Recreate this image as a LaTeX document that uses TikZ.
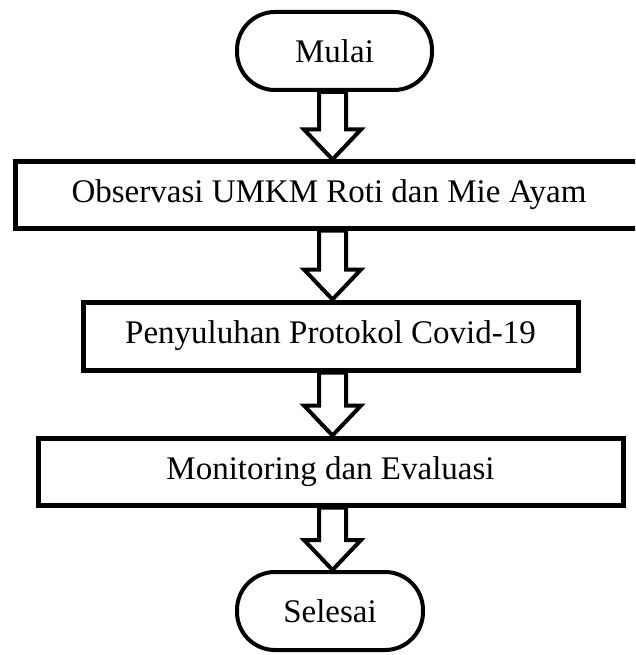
\documentclass[tikz,border=0pt]{standalone}
\usepackage{fontspec}
\setmainfont{Liberation Serif}
\usetikzlibrary{calc}
\tikzset{
  term/.style={draw, line width=4pt, rounded corners=38pt, fill=white, inner sep=0pt},
  procbox/.style={draw, line width=5pt, fill=white, inner sep=0pt},
  barrow/.style={draw, line width=4pt, fill=white, line join=miter}
}
\newcommand\blockarrow[2]{%
  \draw[barrow] let \p1=(#1.south), \p2=(#2.north) in
    (319pt,\y1) -- (346pt,\y1) -- (346pt,\y2+30pt) -- (361pt,\y2+30pt)
    -- (332.5pt,\y2) -- (304pt,\y2+30pt) -- (319pt,\y2+30pt) -- cycle;}
\begin{document}
\begin{tikzpicture}[x=1pt,y=-1pt,font=\fontsize{33}{39}\selectfont]
\useasboundingbox (0,0) rectangle (635,655);
\clip (0,0) rectangle (635,655);
\node[term, minimum width=195pt, minimum height=78pt] (start) at (334.5,51) {Mulai};
\node[procbox, minimum width=628pt, minimum height=66pt] (obs) at (329,195) {Observasi UMKM Roti dan Mie Ayam};
\node[procbox, minimum width=495pt, minimum height=68pt] (peny) at (330.5,336) {Penyuluhan Protokol Covid-19};
\node[procbox, minimum width=585pt, minimum height=67pt] (mon) at (330.5,471.5) {Monitoring dan Evaluasi};
\node[term, minimum width=186pt, minimum height=78pt] (end) at (330,611) {Selesai};
\blockarrow{start}{obs}
\blockarrow{obs}{peny}
\blockarrow{peny}{mon}
\blockarrow{mon}{end}
\end{tikzpicture}
\end{document}
